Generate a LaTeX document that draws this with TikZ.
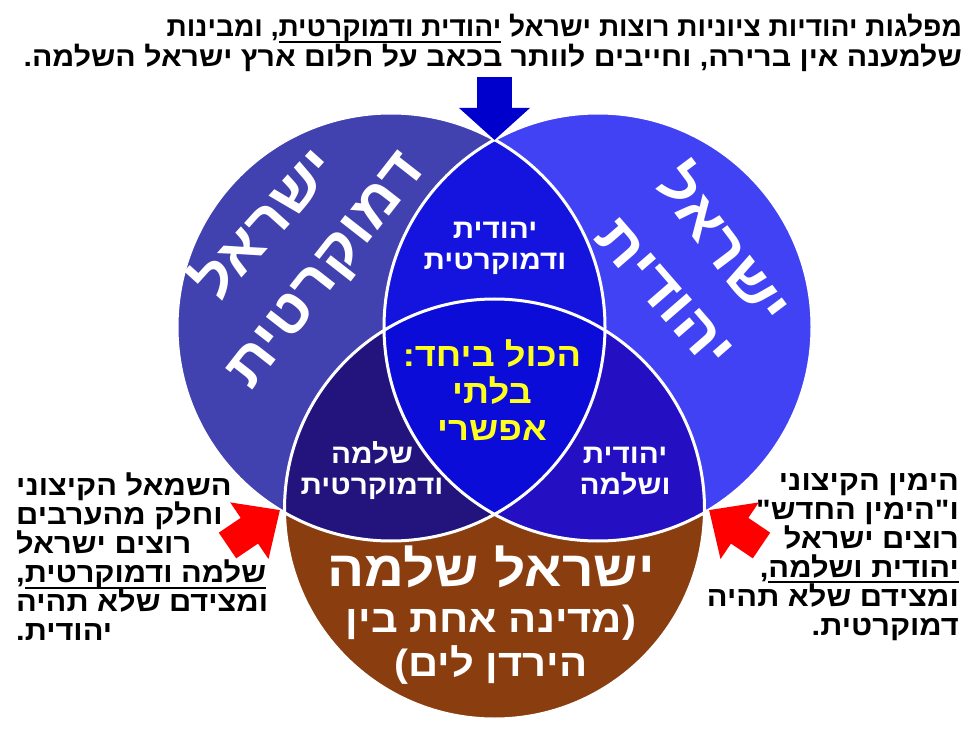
\documentclass[tikz,border=0pt]{standalone}
\usepackage{fontspec}
\usepackage{graphicx}
\usepackage{tikz}
\usetikzlibrary{arrows.meta}
\TeXXeTstate=1
\newfontfamily\hebfont[Script=Hebrew,FakeStretch=1.1]{Liberation Sans}
\definecolor{demblue}{HTML}{4141AF}
\definecolor{jewblue}{HTML}{4242F5}
\definecolor{jdblue}{HTML}{1414DE}
\definecolor{allblue}{HTML}{0C0CD8}
\definecolor{sdnavy}{HTML}{23147D}
\definecolor{jsblue}{HTML}{2410C2}
\definecolor{peacebrown}{HTML}{8A3E10}
\definecolor{hiyellow}{HTML}{FFFF1E}
\definecolor{arrowred}{HTML}{FF0000}
\definecolor{arrowblue}{HTML}{0000CC}
\newcommand\rl[1]{\beginR#1\endR}
\newcommand\hul[1]{\vtop{\setbox0\hbox{\beginR#1\endR}\dp0=0pt\box0\kern4pt\hrule height 2pt}}
\tikzset{
    every picture/.style={line join=round},
    bigtitle/.style={text=white,inner sep=0pt,
      font=\hebfont\bfseries\fontsize{57}{60}\selectfont},
    peacetitle/.style={text=white,inner sep=0pt,align=center,
      font=\hebfont\bfseries\fontsize{38}{44}\selectfont},
    lenslabel/.style={text=white,inner sep=0pt,align=center,
      font=\hebfont\bfseries\fontsize{27}{31}\selectfont},
    alllabel/.style={text=hiyellow,inner sep=0pt,align=center,
      font=\hebfont\bfseries\fontsize{33}{37}\selectfont},
    sidenote/.style={text=black,inner sep=0pt,
      font=\hebfont\bfseries\fontsize{28}{29}\selectfont},
    topnote/.style={text=black,inner sep=0pt,anchor=base east,
      font=\hebfont\bfseries\fontsize{27.5}{30}\selectfont},
    blockarrow/.style={line width=35pt,line cap=butt,
      -{Triangle[length=32pt,width=69pt]}},
    sidearrow/.style={line width=31pt,line cap=butt,
      -{Triangle[length=37pt,width=66pt]}},
    rim/.style={draw=white,line width=3pt}
}
\begin{document}
\begin{tikzpicture}[x=1pt,y=-1pt]
  \lineskiplimit=-20pt
  \useasboundingbox (0,0) rectangle (980,735);
  % the three circles
  \coordinate (dem) at (391,327);
  \coordinate (jew) at (598,327);
  \coordinate (peace) at (494.5,509);
  \fill[demblue] (dem) circle[radius=214];
  \fill[jewblue] (jew) circle[radius=214];
  \fill[peacebrown] (peace) circle[radius=210];
  \begin{scope}
    \clip (jew) circle[radius=214];
    \fill[jsblue] (peace) circle[radius=210];
  \end{scope}
  \begin{scope}
    \clip (dem) circle[radius=214];
    \fill[jdblue] (jew) circle[radius=214];
    \fill[sdnavy] (peace) circle[radius=210];
    \clip (jew) circle[radius=214];
    \fill[allblue] (peace) circle[radius=210];
  \end{scope}
  \draw[rim] (dem) circle[radius=214] (jew) circle[radius=214]
    (peace) circle[radius=210];

  % labels inside
  \node[bigtitle,rotate=48] (demword) at (262,222) {\rl{ישראל}};
  \node[bigtitle,rotate=52] (demsub) at (329,273) {\rl{דמוקרטית}};
  \node[bigtitle,rotate=-53] (jewword) at (726,243) {\rl{ישראל}};
  \node[bigtitle,rotate=-49] (jewsub) at (664,294) {\rl{יהודית}};
  \node[lenslabel] (jdlabel) at (495,248) {\rl{יהודית}\\\rl{ודמוקרטית}};
  \node[lenslabel] (sdlabel) at (372,471) {\rl{שלמה}\\\rl{ודמוקרטית}};
  \node[lenslabel] (jslabel) at (625,471) {\rl{יהודית}\\\rl{ושלמה}};
  \node[alllabel] (alllabel) at (492,390) {\rl{הכול ביחד:}\\\rl{בלתי}\\\rl{אפשרי}};
  \node[peacetitle,font=\hebfont\bfseries\fontsize{50}{50}\selectfont] (peacetitle) at (491,567) {\rl{ישראל שלמה}};
  \node[peacetitle] (peacesub) at (491,645) {\rl{(מדינה אחת בין}\\\rl{הירדן לים)}};

  % notes
  \node[topnote] (topline) at (962,37)
    {\scalebox{0.93}[1]{\rl{מפלגות יהודיות ציוניות רוצות ישראל \hul{יהודית ודמוקרטית}, ומבינות}}};
  \node[topnote] (topsub) at (962,67)
    {\rl{שלמענה אין ברירה, וחייבים לוותר בכאב על חלום ארץ ישראל השלמה.}};
  \node[sidenote,align=left,anchor=north west] (leftnote) at (16,473)
    {\rl{השמאל הקיצוני}\\\rl{וחלק מהערבים}\\\rl{רוצים ישראל}\\
     \rl{\hul{שלמה ודמוקרטית},}\\\rl{ומצידם שלא תהיה}\\\rl{יהודית.}};
  \node[sidenote,align=right,anchor=north east] (rightnote) at (959,473)
    {\rl{הימין הקיצוני}\\\rl{ו"הימין החדש"}\\\rl{רוצים ישראל}\\
     \rl{\hul{יהודית ושלמה},}\\\rl{ומצידם שלא תהיה}\\\rl{דמוקרטית.}};

  % arrows
  \coordinate (toptail) at (494.5,77);
  \coordinate (topcross) at (494.5,140);
  \coordinate (lefttail) at (227.5,545.5);
  \coordinate (leftcross) at (280,510);
  \coordinate (righttail) at (761.5,545.5);
  \coordinate (rightcross) at (709,510);
  \draw[blockarrow,arrowblue] (toptail) -- (topcross);
  \draw[sidearrow,arrowred] (lefttail) -- (leftcross);
  \draw[sidearrow,arrowred] (righttail) -- (rightcross);
\end{tikzpicture}
\end{document}
